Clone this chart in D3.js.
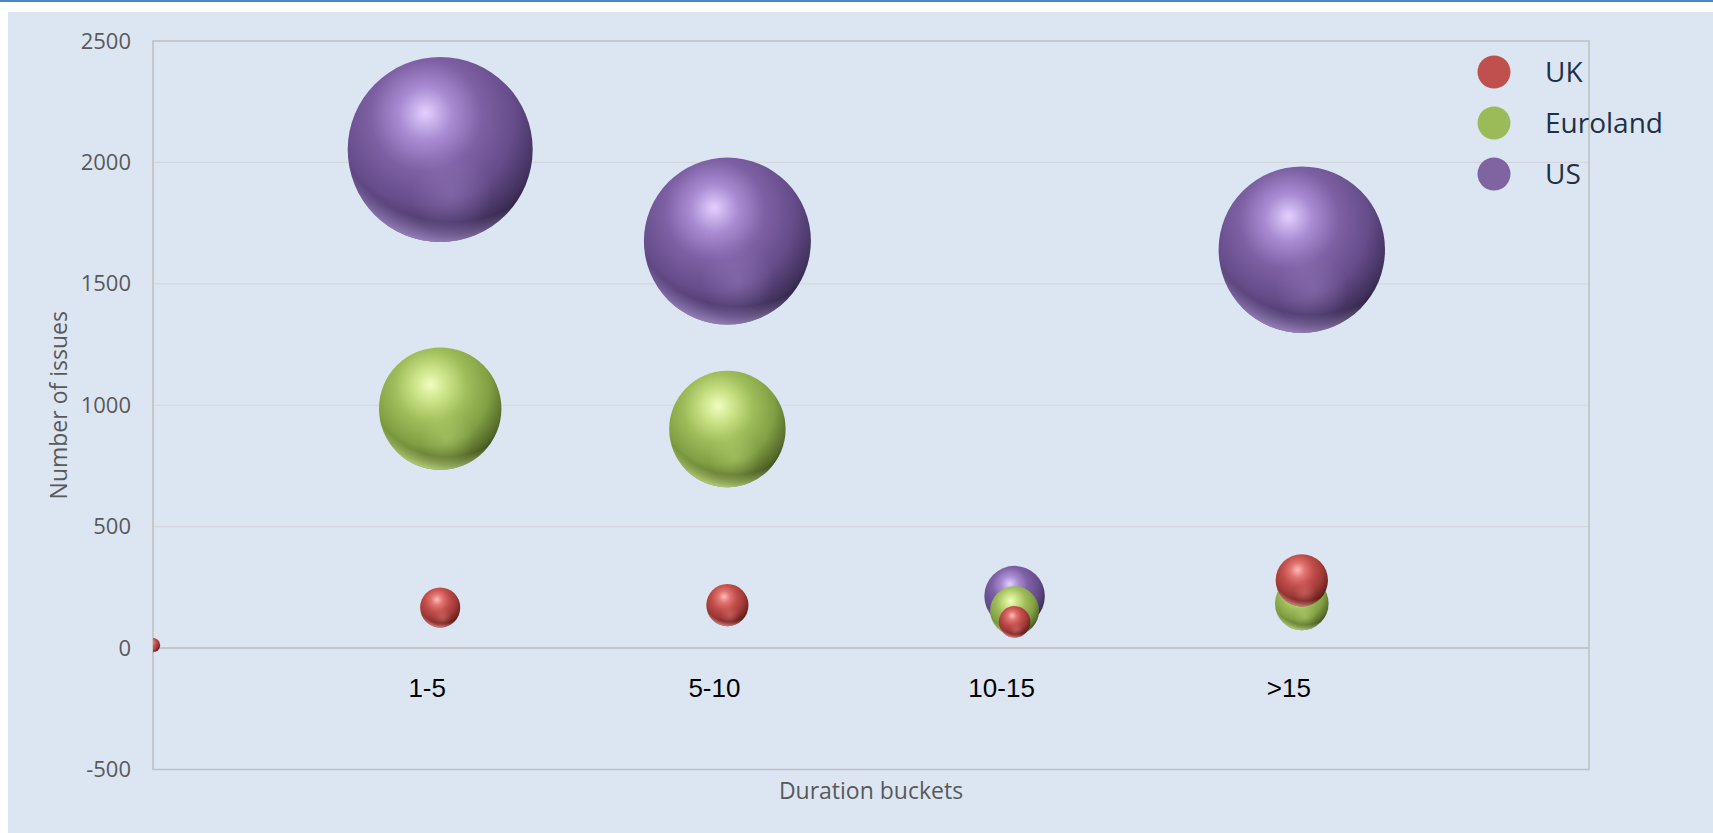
<!DOCTYPE html>
<html>
<head>
<meta charset="utf-8">
<script src="https://cdn.jsdelivr.net/npm/d3@7"></script>
<style>
  html, body { margin: 0; padding: 0; background: #ffffff; }
  svg { display: block; }
</style>
</head>
<body>
<svg id="chart" width="1713" height="833"></svg>
<script>
// ---------------- DATA ----------------
const categories = ["1-5", "5-10", "10-15", ">15"];
const categoryX = [1, 2, 3, 4];
const seriesNames = ["UK", "Euroland", "US"];

const ukX = [0, 1, 2, 3, 4];
const ukY = [12, 167, 177, 108, 279];
const ukSize = [0.6, 4.7, 5.2, 2.9, 8.0];

const euroX = [1, 2, 3, 4];
const euroY = [986, 902, 154, 184];
const euroSize = [43.8, 39.6, 7.0, 8.4];

const usX = [1, 2, 3, 4];
const usY = [2053, 1676, 214, 1641];
const usSize = [100, 81.5, 10.7, 80.9];

const yTicks = [-500, 0, 500, 1000, 1500, 2000, 2500];
const yTitle = "Number of issues";
const xTitle = "Duration buckets";

// ---------------- STYLE ----------------
const colors = { UK: "#c0504d", Euroland: "#9bbb59", US: "#8064a2" };
const shades = {
  UK:       ["#ffbcb9", "#e07370", "#c04d4a", "#9e3a37", "#6e2220", "#330b0a", "#ff9e9b"],
  Euroland: ["#f2fdc0", "#c8e284", "#9ebc5a", "#81a043", "#566b2a", "#24300e", "#d6ee90"],
  US:       ["#e4d0ff", "#a88bd2", "#7d60a3", "#664c8a", "#42325e", "#1b1526", "#b49adc"]
};

const W = 1713, H = 833;
const plot = { left: 153, right: 1589, top: 41, bottom: 769.5 };

const svg = d3.select("#chart");

// background
svg.append("rect").attr("x", 0).attr("y", 0).attr("width", W).attr("height", H).attr("fill", "#ffffff");
svg.append("rect").attr("x", 8).attr("y", 12).attr("width", W - 8).attr("height", H - 12).attr("fill", "#dce6f2");
svg.append("rect").attr("x", 0).attr("y", 0).attr("width", W).attr("height", 2).attr("fill", "#4a86c8");

// scales
const x = d3.scaleLinear().domain([0, 5]).range([plot.left, plot.right]);
const y = d3.scaleLinear().domain([-500, 2500]).range([plot.bottom, plot.top]);
const r = d3.scaleSqrt().domain([0, 100]).range([0, 92.5]);

// defs: gradients + clip
const defs = svg.append("defs");
defs.append("clipPath").attr("id", "plotClip")
  .append("rect").attr("x", plot.left).attr("y", plot.top)
  .attr("width", plot.right - plot.left).attr("height", plot.bottom - plot.top);

seriesNames.forEach(s => {
  const c = shades[s];
  const g = defs.append("radialGradient").attr("id", "main-" + s)
    .attr("cx", 0.43).attr("cy", 0.34).attr("r", 0.72).attr("fx", 0.42).attr("fy", 0.3);
  [[0, c[0]], [0.2, c[1]], [0.42, c[2]], [0.66, c[3]], [0.86, c[4]], [1, c[5]]].forEach(([o, col]) =>
    g.append("stop").attr("offset", o).attr("stop-color", col));
  const rim = defs.append("radialGradient").attr("id", "rim-" + s)
    .attr("cx", 0.56).attr("cy", 0.22).attr("r", 0.8);
  rim.append("stop").attr("offset", 0).attr("stop-color", c[6]).attr("stop-opacity", 0);
  rim.append("stop").attr("offset", 0.84).attr("stop-color", c[6]).attr("stop-opacity", 0);
  rim.append("stop").attr("offset", 1).attr("stop-color", c[6]).attr("stop-opacity", 0.85);
  const glow = defs.append("radialGradient").attr("id", "glow-" + s)
    .attr("cx", 0.56).attr("cy", 0.74).attr("r", 0.22);
  glow.append("stop").attr("offset", 0).attr("stop-color", c[6]).attr("stop-opacity", 0.28);
  glow.append("stop").attr("offset", 1).attr("stop-color", c[6]).attr("stop-opacity", 0);
});

// gridlines
svg.append("g").selectAll("line").data(yTicks.filter(v => v !== 2500 && v !== -500)).join("line")
  .attr("x1", plot.left).attr("x2", plot.right)
  .attr("y1", d => y(d)).attr("y2", d => y(d))
  .attr("stroke", d => d === 0 ? "#bcbcbc" : "#d5d7da")
  .attr("stroke-width", d => d === 0 ? 1.5 : 1.2);

// plot border
svg.append("rect").attr("x", plot.left).attr("y", plot.top)
  .attr("width", plot.right - plot.left).attr("height", plot.bottom - plot.top)
  .attr("fill", "none").attr("stroke", "#bfbfbf").attr("stroke-width", 1.5);

// y axis
const yAxis = d3.axisLeft(y).tickValues(yTicks).tickSize(0).tickPadding(22).tickFormat(d => String(d));
const gy = svg.append("g").attr("transform", `translate(${plot.left},0)`).call(yAxis);
gy.select(".domain").remove();
gy.selectAll("text").attr("font-family", "'Open Sans', sans-serif").attr("font-size", 22).attr("fill", "#595959");

// bubbles
const bubbleData = [
  { s: "US", xs: usX, ys: usY, sz: usSize },
  { s: "Euroland", xs: euroX, ys: euroY, sz: euroSize },
  { s: "UK", xs: ukX, ys: ukY, sz: ukSize }
];
const gb = svg.append("g").attr("clip-path", "url(#plotClip)");
bubbleData.forEach(ser => {
  const pts = ser.xs.map((xv, i) => ({ x: xv, y: ser.ys[i], size: ser.sz[i] }));
  const grp = gb.append("g").attr("class", "series-" + ser.s);
  const node = grp.selectAll("g").data(pts).join("g")
    .attr("transform", d => `translate(${x(d.x)},${y(d.y)})`);
  node.append("circle").attr("r", d => r(d.size)).attr("fill", `url(#main-${ser.s})`);
  node.append("circle").attr("r", d => r(d.size)).attr("fill", `url(#glow-${ser.s})`);
  node.append("circle").attr("r", d => r(d.size)).attr("fill", `url(#rim-${ser.s})`);
});

// category labels
svg.append("g").selectAll("text").data(categories).join("text")
  .attr("x", (d, i) => x(categoryX[i]) - 13)
  .attr("y", plot.bottom - 73)
  .attr("text-anchor", "middle")
  .attr("font-family", "'Liberation Sans', Arial, sans-serif")
  .attr("font-size", 26).attr("fill", "#000000")
  .text(d => d);

// axis titles
svg.append("text").attr("x", (plot.left + plot.right) / 2).attr("y", 799)
  .attr("text-anchor", "middle").attr("font-family", "'Open Sans', sans-serif")
  .attr("font-size", 23).attr("fill", "#595959").text(xTitle);
svg.append("text")
  .attr("transform", `translate(67,${(plot.top + plot.bottom) / 2}) rotate(-90)`)
  .attr("text-anchor", "middle").attr("font-family", "'Open Sans', sans-serif")
  .attr("font-size", 23).attr("fill", "#595959").text(yTitle);

// legend
const legend = svg.append("g").attr("transform", "translate(1494,72)");
const li = legend.selectAll("g").data(seriesNames).join("g")
  .attr("transform", (d, i) => `translate(0,${i * 51})`);
li.append("circle").attr("r", 16.5).attr("fill", d => colors[d]);
li.append("text").attr("x", 51).attr("y", 0).attr("dy", "0.36em")
  .attr("font-family", "'Open Sans', sans-serif").attr("font-size", 28)
  .attr("fill", "#1f3049").text(d => d);
</script>
</body>
</html>
